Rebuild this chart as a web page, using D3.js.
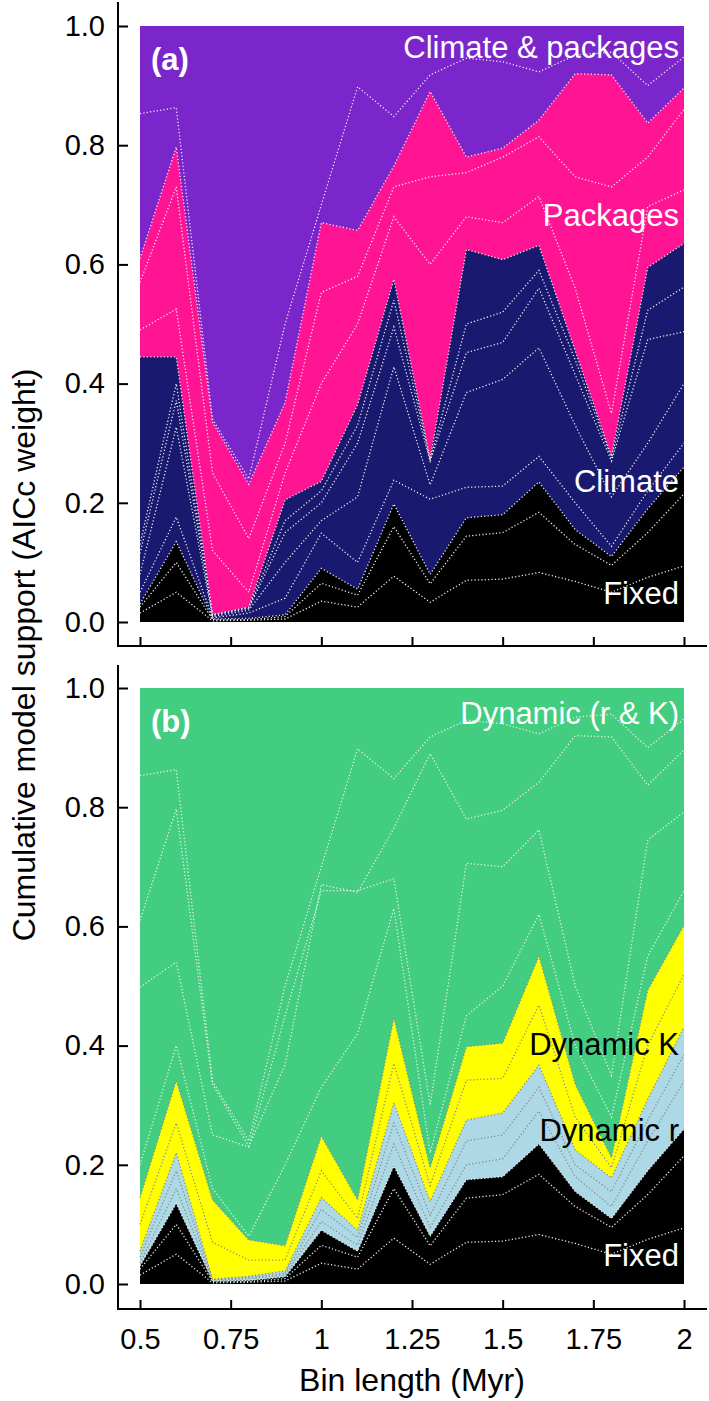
<!DOCTYPE html>
<html>
<head>
<meta charset="utf-8">
<script src="https://cdn.jsdelivr.net/npm/d3@7/dist/d3.min.js"></script>
<style>
  html, body { margin: 0; padding: 0; background: #ffffff; }
  svg { display: block; }
  text { font-family: "Liberation Sans", Arial, Helvetica, sans-serif; }
</style>
</head>
<body>
<svg id="chart" width="709" height="1401"></svg>
<script>
// ---------------- data ----------------
const binLength = [0.5,0.6,0.7,0.8,0.9,1.0,1.1,1.2,1.3,1.4,1.5,1.6,1.7,1.8,1.9,2.0];
const xTickValues = [0.5,0.75,1,1.25,1.5,1.75,2];
const xTickLabels = ["0.5","0.75","1","1.25","1.5","1.75","2"];
const yTickValues = [0,0.2,0.4,0.6,0.8,1.0];
const yTickLabels = ["0.0","0.2","0.4","0.6","0.8","1.0"];

// cumulative AICc weights (top of each group)
const fixedCum    = [0.03,0.135,0.005,0.006,0.012,0.09,0.055,0.198,0.08,0.175,0.18,0.235,0.155,0.11,0.19,0.26];
// panel (a)
const climateCum  = [0.445,0.445,0.012,0.025,0.205,0.236,0.365,0.575,0.273,0.625,0.608,0.632,0.455,0.278,0.595,0.635];
const packagesCum = [0.61,0.797,0.335,0.231,0.368,0.67,0.657,0.765,0.89,0.78,0.795,0.842,0.92,0.918,0.837,0.896];
const climPackCum = [1,1,1,1,1,1,1,1,1,1,1,1,1,1,1,1];
// panel (b)
const dynRCum     = [0.055,0.22,0.008,0.013,0.022,0.145,0.09,0.304,0.138,0.275,0.287,0.367,0.225,0.178,0.31,0.431];
const dynKCum     = [0.145,0.341,0.141,0.074,0.064,0.248,0.141,0.446,0.195,0.398,0.404,0.55,0.335,0.212,0.493,0.602];
const dynRKCum    = [1,1,1,1,1,1,1,1,1,1,1,1,1,1,1,1];

// individual-model cumulative boundaries (dotted lines)
const fixedModel1 = [0.015,0.05,0.002,0.003,0.005,0.035,0.025,0.077,0.033,0.07,0.072,0.083,0.068,0.05,0.075,0.094];
const fixedModel2 = [0.025,0.1,0.004,0.004,0.009,0.065,0.045,0.16,0.064,0.144,0.15,0.184,0.13,0.095,0.15,0.215];
const climateModel1 = [0.05,0.176,0.007,0.015,0.04,0.149,0.1,0.238,0.206,0.226,0.228,0.278,0.2,0.127,0.22,0.3];
const climateModel2 = [0.08,0.327,0.009,0.02,0.1,0.17,0.21,0.428,0.23,0.385,0.407,0.46,0.33,0.21,0.3,0.4];
const climateModel3 = [0.115,0.372,0.011,0.023,0.15,0.2,0.3,0.495,0.27,0.452,0.469,0.56,0.415,0.27,0.474,0.487];
const climateModel4 = [0.13,0.4,0.012,0.024,0.17,0.22,0.33,0.54,0.272,0.5,0.52,0.59,0.44,0.275,0.523,0.562];
const packagesModel1 = [0.49,0.525,0.12,0.05,0.25,0.4,0.5,0.68,0.6,0.68,0.67,0.714,0.56,0.35,0.697,0.725];
const packagesModel2 = [0.57,0.73,0.25,0.14,0.3,0.553,0.58,0.73,0.747,0.754,0.78,0.814,0.747,0.73,0.78,0.86];
const climPackModel1 = [0.853,0.863,0.34,0.24,0.5,0.7,0.898,0.848,0.918,0.946,0.94,0.923,0.951,0.956,0.9,0.948];

const dynRModel1 = [0.035,0.16,0.006,0.009,0.015,0.105,0.065,0.235,0.095,0.2,0.21,0.29,0.18,0.13,0.24,0.34];
const dynRModel2 = [0.045,0.19,0.007,0.011,0.018,0.125,0.078,0.27,0.115,0.24,0.25,0.33,0.2,0.155,0.275,0.385];
const dynKModel1 = [0.1,0.27,0.07,0.04,0.04,0.19,0.11,0.37,0.165,0.342,0.345,0.468,0.28,0.195,0.4,0.52];
const dynRKModel1 = [0.2,0.4,0.16,0.08,0.2,0.33,0.42,0.63,0.22,0.45,0.5,0.62,0.4,0.28,0.55,0.66];
const dynRKModel2 = [0.498,0.54,0.25,0.23,0.45,0.66,0.66,0.68,0.3,0.706,0.7,0.762,0.5,0.35,0.745,0.792];
const dynRKModel3 = [0.61,0.797,0.335,0.231,0.368,0.67,0.657,0.765,0.89,0.78,0.795,0.842,0.92,0.918,0.837,0.896];
const dynRKModel4 = [0.853,0.863,0.34,0.24,0.5,0.7,0.898,0.848,0.918,0.946,0.94,0.923,0.951,0.956,0.9,0.948];

// ---------------- drawing ----------------
const svg = d3.select("#chart");
svg.append("rect").attr("width", 709).attr("height", 1401).attr("fill", "#ffffff");

const x = d3.scaleLinear().domain([0.5, 2]).range([140, 684]);
const LIGHT = "#eeeeee", GREY = "#8a8a8a";

function drawPanel(cfg) {
  const y = d3.scaleLinear().domain([0, 1]).range([cfg.y0, cfg.y1]);
  const g = svg.append("g");
  const area = d3.area().x((d, i) => x(binLength[i])).y0(y(0)).y1(d => y(d));
  const line = d3.line().x((d, i) => x(binLength[i])).y(d => y(d));

  // draw from the top group down, so lower groups cover lines of upper groups
  cfg.layers.forEach(L => {
    g.append("path").datum(L.cum).attr("d", area).attr("fill", L.color).attr("stroke", "none");
    L.models.forEach(m => {
      g.append("path").datum(m).attr("d", line).attr("fill", "none")
        .attr("stroke", L.lineColor).attr("stroke-width", 1.3)
        .attr("stroke-dasharray", "1.2,2.2");
    });
  });
  // dotted edges of each group
  cfg.layers.forEach(L => {
    if (L.edge) {
      g.append("path").datum(L.cum).attr("d", line).attr("fill", "none")
        .attr("stroke", L.lineColor).attr("stroke-width", 1.3)
        .attr("stroke-dasharray", "1.2,2.2");
    }
  });

  // axes
  const yAxis = d3.axisLeft(y).tickValues(yTickValues)
    .tickFormat((d, i) => yTickLabels[i]).tickSizeInner(-10).tickSizeOuter(0).tickPadding(13);
  const ya = g.append("g").attr("transform", "translate(118,0)").call(yAxis);
  ya.select(".domain").remove();
  ya.selectAll(".tick line").attr("stroke", "#000").attr("stroke-width", 2);
  ya.selectAll(".tick text").attr("font-size", 29).attr("fill", "#000")
    .attr("font-family", "Liberation Sans, Arial, sans-serif");
  g.append("line").attr("x1", 118).attr("x2", 118).attr("y1", cfg.axisTop).attr("y2", cfg.xAxisY + 1)
    .attr("stroke", "#000").attr("stroke-width", 2);

  const xAxis = d3.axisBottom(x).tickValues(xTickValues)
    .tickFormat((d, i) => cfg.xLabels ? xTickLabels[i] : "")
    .tickSizeInner(-9).tickSizeOuter(0).tickPadding(19);
  const xa = g.append("g").attr("transform", `translate(0,${cfg.xAxisY})`).call(xAxis);
  xa.select(".domain").remove();
  xa.selectAll(".tick line").attr("stroke", "#000").attr("stroke-width", 2);
  xa.selectAll(".tick text").attr("font-size", 29).attr("fill", "#000")
    .attr("font-family", "Liberation Sans, Arial, sans-serif");
  g.append("line").attr("x1", 117).attr("x2", 707).attr("y1", cfg.xAxisY).attr("y2", cfg.xAxisY)
    .attr("stroke", "#000").attr("stroke-width", 2);

  // labels
  g.append("text").attr("x", 151).attr("y", y(0.945)).attr("dy", "0.35em")
    .attr("font-size", 31).attr("font-weight", "bold").attr("fill", "#fff").text(cfg.tag);
  cfg.labels.forEach(l => {
    g.append("text").attr("x", 679).attr("y", y(l.v)).attr("dy", "0.35em")
      .attr("text-anchor", "end").attr("font-size", 31).attr("fill", l.color).text(l.text);
  });
}

drawPanel({
  y0: 622, y1: 26, axisTop: 2, xAxisY: 646, xLabels: false, tag: "(a)",
  layers: [
    { cum: climPackCum, color: "#7B26CB", lineColor: LIGHT, models: [climPackModel1], edge: false },
    { cum: packagesCum, color: "#FF1493", lineColor: LIGHT, models: [packagesModel1, packagesModel2], edge: true },
    { cum: climateCum, color: "#191970", lineColor: LIGHT, models: [climateModel1, climateModel2, climateModel3, climateModel4], edge: true },
    { cum: fixedCum, color: "#000000", lineColor: LIGHT, models: [fixedModel1, fixedModel2], edge: true }
  ],
  labels: [
    { text: "Climate & packages", v: 0.965, color: "#fff" },
    { text: "Packages", v: 0.683, color: "#fff" },
    { text: "Climate", v: 0.236, color: "#fff" },
    { text: "Fixed", v: 0.049, color: "#fff" }
  ]
});

drawPanel({
  y0: 1284, y1: 688, axisTop: 665, xAxisY: 1309, xLabels: true, tag: "(b)",
  layers: [
    { cum: dynRKCum, color: "#43CD80", lineColor: LIGHT, models: [dynRKModel1, dynRKModel2, dynRKModel3, dynRKModel4], edge: false },
    { cum: dynKCum, color: "#FFFF00", lineColor: GREY, models: [dynKModel1], edge: true },
    { cum: dynRCum, color: "#ADD8E6", lineColor: GREY, models: [dynRModel1, dynRModel2], edge: true },
    { cum: fixedCum, color: "#000000", lineColor: LIGHT, models: [fixedModel1, fixedModel2], edge: true }
  ],
  labels: [
    { text: "Dynamic (r & K)", v: 0.958, color: "#fff" },
    { text: "Dynamic K", v: 0.402, color: "#000" },
    { text: "Dynamic r", v: 0.258, color: "#000" },
    { text: "Fixed", v: 0.049, color: "#fff" }
  ]
});

// axis titles
svg.append("text").attr("x", 412).attr("y", 1380).attr("dy", "0.35em")
  .attr("text-anchor", "middle").attr("font-size", 32).attr("fill", "#000").text("Bin length (Myr)");
svg.append("text").attr("transform", "translate(24,655) rotate(-90)").attr("dy", "0.35em")
  .attr("text-anchor", "middle").attr("font-size", 32).attr("fill", "#000")
  .text("Cumulative model support (AICc weight)");
</script>
</body>
</html>
